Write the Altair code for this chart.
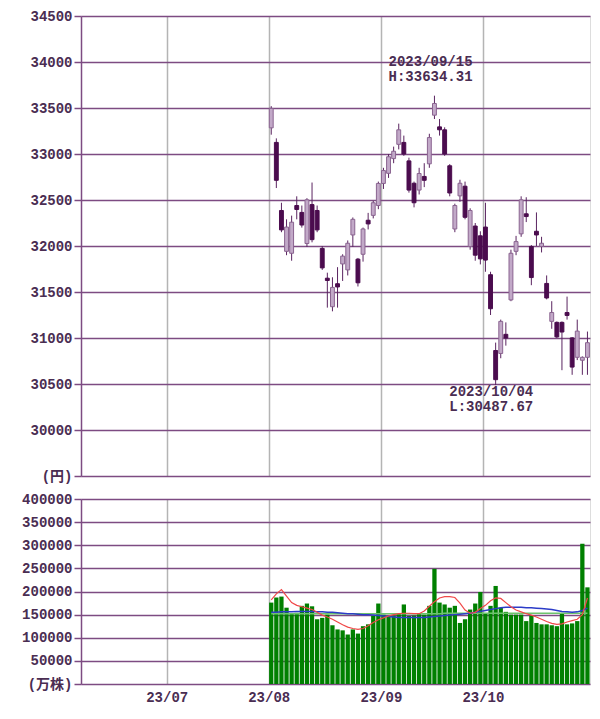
import altair as alt
import pandas as pd

dates = ["08/01","08/02","08/03","08/04","08/07","08/08","08/09","08/10","08/14","08/15",
         "08/16","08/17","08/18","08/21","08/22","08/23","08/24","08/25","08/28","08/29",
         "08/30","08/31","09/01","09/04","09/05","09/06","09/07","09/08","09/11","09/12",
         "09/13","09/14","09/15","09/19","09/20","09/21","09/22","09/25","09/26","09/27",
         "09/28","09/29","10/02","10/03","10/04","10/05","10/06","10/10","10/11","10/12",
         "10/13","10/16","10/17","10/18","10/19","10/20","10/23","10/24","10/25","10/26",
         "10/27","10/30","10/31"]
opens = [33284,33126,32386,31942,31921,32440,32365,32027,32450,32386,
         31974,31650,31340,31590,31805,31740,32120,31857,31910,32280,
         32333,32440,32680,32790,32950,33105,33126,32925,32682,32608,
         32756,32893,33422,33295,33263,32872,32185,32545,32650,31995,
         32217,32111,32206,31688,30864,30832,31040,31414,31942,32132,
         32350,31995,32160,31995,31593,31181,31170,31170,31277,31001,
         30790,30758,30790]
highs = [33520,33170,32470,32290,32330,32540,32440,32520,32690,32440,
         32000,31710,31660,31770,31910,32060,32310,31870,32200,32360,
         32490,32700,32850,33000,33080,33330,33200,32960,32700,32850,
         32900,33220,33634,33380,33290,32890,32460,32720,32700,32410,
         32250,32160,32470,31720,30950,31200,31170,31960,32110,32540,
         32530,32010,32365,32100,31680,31400,31180,31180,31450,31010,
         31200,30800,31070]
lows = [33210,32630,32150,31900,31840,32290,32200,31990,32040,32150,
        31740,31330,31290,31330,31620,31680,31990,31560,31830,32180,
        32300,32400,32620,32740,32900,33050,32980,32580,32420,32560,
        32640,32850,33380,33200,32980,32540,32150,32480,32290,31960,
        31840,31800,31720,31250,30488,30780,30917,31400,31900,32100,
        32260,31574,32000,31930,31420,31100,31000,30650,31200,30600,
        30760,30600,30600]
closes = [33496,32714,32175,32206,32259,32397,32228,32502,32069,32175,
          31762,31625,31550,31555,31890,32030,32290,31600,32185,32240,
          32470,32680,32820,32970,33030,33263,33000,32608,32470,32788,
          32714,33179,33549,33263,33000,32576,32440,32682,32312,32386,
          31900,31860,31847,31318,30547,31181,31000,31921,32048,32502,
          32320,31657,32120,32030,31435,31277,31012,31065,31245,30684,
          31075,30790,30949]
volumes = [176000,187000,189000,165000,153000,154000,169000,174000,168000,140000,
           143000,150000,127000,118000,116000,107000,118000,109000,125000,129000,
           147000,174000,150000,147000,148000,153000,172000,147000,148000,153000,
           150000,169000,249000,176000,172000,165000,169000,132000,140000,161000,
           174000,199000,153000,169000,212000,165000,156000,150000,150000,150000,
           136000,148000,132000,129000,129000,127000,125000,153000,129000,131000,
           136000,303000,209000]
ma_short = [182000,195000,204000,190000,176000,170000,167000,164000,161000,155000,
            149000,145000,140000,134000,128000,123000,120000,118000,120000,126000,
            133000,139000,143000,147000,150000,152000,153000,153000,152000,152000,
            158000,168000,178000,186000,189000,189000,187000,175000,160000,153000,
            155000,163000,170000,180000,186000,185000,176000,167000,160000,156000,
            152000,149000,145000,140000,135000,131000,129000,130000,134000,137000,
            140000,150000,186000]
ma_mid = [155000,155000,156000,156000,156000,157000,157000,157000,157000,156000,
          156000,155000,155000,154000,153000,152000,152000,151000,150000,150000,
          149000,148000,147000,146000,145000,144000,144000,144000,144000,144000,
          144000,145000,146000,147000,148000,149000,150000,151000,152000,153000,
          155000,157000,159000,161000,163000,165000,166000,166000,166000,166000,
          165000,165000,164000,163000,162000,161000,159000,157000,156000,155000,
          156000,159000,164000]
ma_long = [152000,152000,152000,152000,152000,152000,152000,152000,152000,152000,
           152000,152000,152000,152000,152000,152000,152000,152000,152000,152000,
           152000,152000,152000,152000,152000,152000,152000,152000,152000,152000,
           152000,152000,152000,152000,153000,153000,153000,153000,153000,153000,
           153000,153000,153000,153000,153000,153000,153000,153000,153000,153000,
           153000,153000,153000,153000,153000,153000,153000,153000,153000,153000,
           153000,153000,153000]

month_pos = [-20, 0, 22, 42]
month_labels = ["23/07", "23/08", "23/09", "23/10"]
price_ticks = [29500, 30000, 30500, 31000, 31500, 32000, 32500, 33000, 33500, 34000, 34500]
vol_ticks = [0, 50000, 100000, 150000, 200000, 250000, 300000, 350000, 400000]

ann_x = [23.5, 23.5, 35.4, 35.4]
ann_y = [34003, 33840, 30408, 30245]
ann_text = ["2023/09/15", "H:33634.31", "2023/10/04", "L:30487.67"]

df = pd.DataFrame({"date": dates, "open": opens, "high": highs, "low": lows,
                   "close": closes, "vol": volumes, "ma5": ma_short,
                   "ma25": ma_mid, "ma75": ma_long})
df["i"] = list(range(len(df)))
ann = pd.DataFrame({"x": ann_x, "y": ann_y, "t": ann_text})

PURPLE = "#7d4b82"
GRAY = "#b4b4b4"
TXT = "#4a2d52"
FONT = "Liberation Mono, Noto Sans CJK JP, monospace"

xscale = alt.Scale(domain=[-36.8, 63], nice=False, zero=False)
month_expr = " : ".join(f"datum.value == {p} ? '{l}'" for p, l in zip(month_pos, month_labels)) + " : ''"

x_top = alt.Axis(values=month_pos, grid=True, gridColor=GRAY, gridWidth=1.5,
                 labels=False, ticks=False, domain=False, title=None)
x_bot = alt.Axis(values=month_pos, grid=True, gridColor=GRAY, gridWidth=1.5,
                 labelExpr=month_expr, ticks=False, domain=False, title=None,
                 labelFont=FONT, labelFontSize=14, labelFontWeight="bold",
                 labelColor=TXT, labelPadding=6)

def yaxis(vals, zero_label):
    return alt.Axis(values=vals, format="d", grid=True, gridColor=PURPLE, gridWidth=1.5,
                    labelExpr=f"datum.value == {vals[0]} ? '{zero_label}' : datum.label",
                    labelOverlap=False,
                    tickColor=PURPLE, tickSize=7, tickWidth=1.5, domainColor=PURPLE,
                    domainWidth=1.5, labelFont=FONT, labelFontSize=14,
                    labelFontWeight="bold", labelColor=TXT, labelPadding=2,
                    title=None, minExtent=72, maxExtent=72)

base = alt.Chart(df).transform_calculate(
    xc="datum.i + 0.5", xl="datum.i + 0.12", xr="datum.i + 0.88",
    bl="datum.i + 0.08", br="datum.i + 0.92",
    up="datum.close >= datum.open ? 'up' : 'down'")

yp = alt.Scale(domain=[29500, 34500], nice=False, zero=False)
pax = yaxis(price_ticks, "(円)")

wicks = base.mark_rule(color="#5a2460", strokeWidth=1).encode(
    x=alt.X("xc:Q", scale=xscale, axis=x_top),
    y=alt.Y("low:Q", scale=yp, axis=pax),
    y2="high:Q")
bodies = base.mark_bar(strokeWidth=1).encode(
    x=alt.X("xl:Q", scale=xscale, axis=x_top), x2="xr:Q",
    y=alt.Y("open:Q", scale=yp, axis=pax), y2="close:Q",
    fill=alt.Fill("up:N", scale=alt.Scale(domain=["up", "down"], range=["#c2a9c8", "#4b0c4e"]), legend=None),
    stroke=alt.Stroke("up:N", scale=alt.Scale(domain=["up", "down"], range=["#8a6490", "#4b0c4e"]), legend=None))
texts = alt.Chart(ann).mark_text(align="left", baseline="middle", font=FONT,
                                 fontSize=14, fontWeight="bold", color=TXT).encode(
    x=alt.X("x:Q", scale=xscale, axis=x_top),
    y=alt.Y("y:Q", scale=yp, axis=pax), text="t:N")

price = alt.layer(wicks, bodies, texts).properties(width=509, height=460)

yv = alt.Scale(domain=[0, 400000], nice=False, zero=True)
vax = yaxis(vol_ticks, "(万株)")
bars = base.mark_rect(color="#008000").encode(
    x=alt.X("bl:Q", scale=xscale, axis=x_bot),
    x2="br:Q",
    y=alt.Y("vol:Q", scale=yv, axis=vax),
    y2=alt.datum(0))
def ma_line(field, color, w):
    return base.mark_line(color=color, strokeWidth=w).encode(
        x=alt.X("xc:Q", scale=xscale, axis=x_bot),
        y=alt.Y(f"{field}:Q", scale=yv, axis=vax))
l75 = ma_line("ma75", "#6cc46c", 1.5)
l25 = ma_line("ma25", "#2c3cc8", 1.5)
l5 = ma_line("ma5", "#f04848", 1.2)

volume = alt.layer(bars, l75, l25, l5).properties(width=509, height=185)

chart = alt.vconcat(price, volume, spacing=7).properties(
    padding={"left": 0, "top": 0, "right": 0, "bottom": 0}
).configure_view(stroke=PURPLE, strokeWidth=1.5).configure(background="white")

chart.save("out.html", embed_options={"renderer": "svg", "actions": False})
